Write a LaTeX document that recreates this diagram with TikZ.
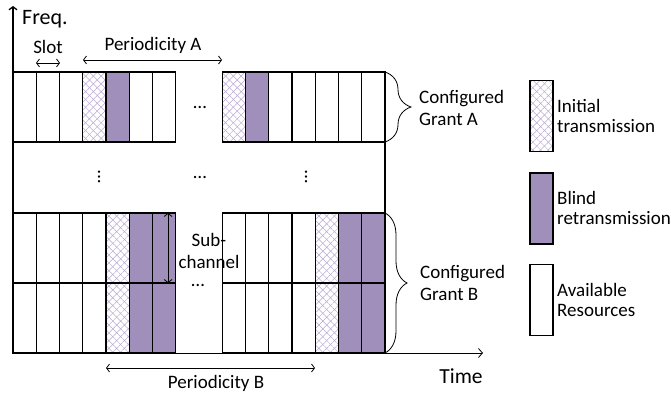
\documentclass[tikz,border=0pt]{standalone}
\usepackage{fontspec}
\setmainfont{Carlito}
\usetikzlibrary{arrows.meta,patterns.meta,decorations.pathreplacing}
\definecolor{blindc}{HTML}{A08FBA}
\definecolor{hatchc}{HTML}{B8A6D2}
\tikzset{
  gridline/.style={draw=black,line width=1.1pt},
  initfill/.style={
    preaction={pattern={Lines[angle=45,distance=5.5pt,line width=0.5pt]},pattern color=hatchc},
    preaction={pattern={Lines[angle=-45,distance=5.5pt,line width=0.5pt]},pattern color=hatchc}},
  blindfill/.style={fill=blindc},
  dimarrow/.style={{Straight Barb[length=3pt,width=8pt]}-{Straight Barb[length=3pt,width=8pt]}, line width=0.8pt},
  lbl/.style={inner sep=0pt, font=\fontsize{19}{21}\selectfont},
  legbox/.style={gridline, minimum width=23pt, minimum height=71pt, inner sep=0pt},
  bracestyle/.style={line width=0.8pt, decorate},
}
\begin{document}
\begin{tikzpicture}[x=1pt,y=-1pt]
\useasboundingbox (0,0) rectangle (671,395);

% cells
\foreach \i in {0,1,2,3,4,5,6,9,10,11,12,13,14,15} {
  \draw[gridline] ({13+\i*23.25},72) rectangle ({13+(\i+1)*23.25},142);
  \draw[gridline] ({13+\i*23.25},213) rectangle ({13+(\i+1)*23.25},283);
  \draw[gridline] ({13+\i*23.25},283) rectangle ({13+(\i+1)*23.25},353);
}
% Grant A coloured
\foreach \i in {3,9} {
  \draw[gridline,initfill] ({13+\i*23.25},72) rectangle ({13+(\i+1)*23.25},142);
}
\foreach \i in {4,10} {
  \draw[gridline,blindfill] ({13+\i*23.25},72) rectangle ({13+(\i+1)*23.25},142);
}
% Grant B coloured
\foreach \i in {4,13} {
  \draw[gridline,initfill] ({13+\i*23.25},213) rectangle ({13+(\i+1)*23.25},283);
  \draw[gridline,initfill] ({13+\i*23.25},283) rectangle ({13+(\i+1)*23.25},353);
}
\foreach \i in {5,6,14,15} {
  \draw[gridline,blindfill] ({13+\i*23.25},213) rectangle ({13+(\i+1)*23.25},283);
  \draw[gridline,blindfill] ({13+\i*23.25},283) rectangle ({13+(\i+1)*23.25},353);
}

% axes
\coordinate (origin) at (13,353);
\coordinate (freqtop) at (13,6);
\coordinate (timeend) at (483,353);
\draw[line width=1.3pt, -{Straight Barb[length=3pt,width=8pt]}] (origin) -- (freqtop);
\draw[line width=0.8pt, -{Straight Barb[length=4pt,width=9pt]}] (origin) -- (timeend);
\coordinate (rA) at (385,142);
\coordinate (rB) at (385,213);
\draw[gridline] (rA) -- (rB);

% dimension arrows
\coordinate (slotL) at (36,63);
\coordinate (slotR) at (60,63);
\draw[dimarrow] (slotL) -- (slotR);
\coordinate (perAL) at (83,60);
\coordinate (perAR) at (222,60);
\draw[dimarrow] (perAL) -- (perAR);
\coordinate (perBL) at (106,368);
\coordinate (perBR) at (315,368);
\draw[dimarrow] (perBL) -- (perBR);
\coordinate (subT) at (168,213);
\coordinate (subB) at (168,283);
\draw[dimarrow] (subT) -- (subB);

% braces
\coordinate (bAt) at (385,72);
\coordinate (bAb) at (385,142);
\draw[bracestyle, decoration={brace, amplitude=26pt}] (bAt) -- (bAb);
\coordinate (bBt) at (385,213);
\coordinate (bBb) at (385,353);
\draw[bracestyle, decoration={brace, amplitude=22pt}] (bBt) -- (bBb);

% labels
\node[lbl, anchor=west, font=\fontsize{22}{24}\selectfont] (freq) at (22,19) {Freq.};
\node[lbl] (slot) at (48,47) {Slot};
\node[lbl] (perA) at (153,45) {Periodicity A};
\node[lbl] (perB) at (216,383) {Periodicity B};
\node[lbl, font=\fontsize{21.5}{24}\selectfont] (time) at (461,376) {Time};
\node[lbl, align=center, font=\fontsize{19}{22}\selectfont] (sub) at (209,251) {Sub-\\channel};
\node[lbl, anchor=west, align=left, font=\fontsize{19}{22}\selectfont] (cgA) at (419,108) {Configured\\Grant A};
\node[lbl, anchor=west, align=left, font=\fontsize{19}{22}\selectfont] (cgB) at (420,283) {Configured\\Grant B};

% dots
\node[lbl] (dA) at (200,108) {…};
\node[lbl, rotate=90] (dv1) at (99,177) {…};
\node[lbl] (dm) at (200,177) {…};
\node[lbl, rotate=90] (dv2) at (306,177) {…};
\node[lbl] (dB) at (198,285) {…};

% legend
\node[legbox, initfill] (lgI) at (541.5,116) {};
\node[legbox, blindfill] (lgB) at (541.5,208.5) {};
\node[legbox] (lgA) at (541.5,300) {};
\node[lbl, anchor=west, align=left, font=\fontsize{19}{20}\selectfont] (tI) at (557,116) {Initial\\transmission};
\node[lbl, anchor=west, align=left, font=\fontsize{19}{20}\selectfont] (tB) at (557,208) {Blind\\retransmission};
\node[lbl, anchor=west, align=left, font=\fontsize{19}{20}\selectfont] (tA) at (557,300) {Available\\Resources};
\end{tikzpicture}
\end{document}
